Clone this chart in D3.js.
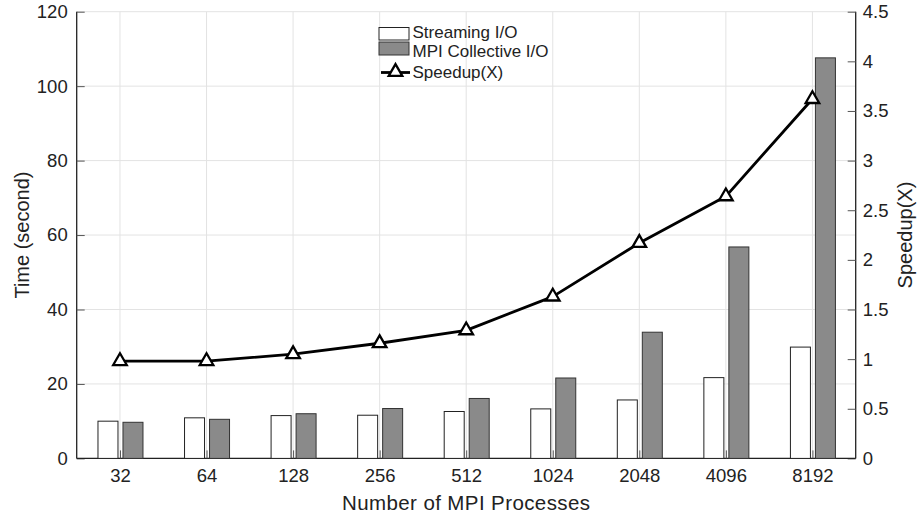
<!DOCTYPE html>
<html><head><meta charset="utf-8">
<script src="https://cdn.jsdelivr.net/npm/d3@7"></script>
<style>body{margin:0;background:#fff}svg{display:block}text{font-family:"Liberation Sans",Arial,Helvetica,sans-serif;fill:#222}</style>
</head><body><svg id="c" width="917" height="519"></svg>
<script>
const categories = ["32","64","128","256","512","1024","2048","4096","8192"];
const streamingIO = [10.0, 10.9, 11.5, 11.6, 12.6, 13.3, 15.7, 21.7, 29.9];
const mpiCollectiveIO = [9.7, 10.5, 12.0, 13.4, 16.1, 21.6, 33.9, 56.8, 107.6];
const speedup = [0.98, 0.98, 1.05, 1.16, 1.29, 1.63, 2.17, 2.64, 3.62];
const leftTicks = [0, 20, 40, 60, 80, 100, 120];
const rightTicks = [0, 0.5, 1, 1.5, 2, 2.5, 3, 3.5, 4, 4.5];
const legendLabels = ["Streaming I/O", "MPI Collective I/O", "Speedup(X)"];

const FONT = '"Liberation Sans",Arial,Helvetica,sans-serif';
const svg = d3.select("#c");
const L = 76.7, R = 855.7, T = 11.7, B = 458.4;
const x = d3.scalePoint().domain(categories).range([L, R]).padding(0.5);
const y = d3.scaleLinear().domain([0, 120]).range([B, T]);
const y2 = d3.scaleLinear().domain([0, 4.5]).range([B, T]);

// grid
const g = svg.append("g");
g.selectAll("line.hg").data(leftTicks).join("line")
  .attr("x1", L).attr("x2", R).attr("y1", d => y(d)).attr("y2", d => y(d))
  .attr("stroke", "#e3e3e3").attr("stroke-width", 1);
g.selectAll("line.vg").data(categories).join("line")
  .attr("x1", d => x(d)).attr("x2", d => x(d)).attr("y1", T).attr("y2", B)
  .attr("stroke", "#e3e3e3").attr("stroke-width", 1);

// axes
const axL = svg.append("g").attr("transform", `translate(${L},0)`)
  .call(d3.axisLeft(y).tickValues(leftTicks).tickSize(-8).tickPadding(9).tickFormat(d3.format("d")));
const axR = svg.append("g").attr("transform", `translate(${R},0)`)
  .call(d3.axisRight(y2).tickValues(rightTicks).tickSize(-8).tickPadding(7).tickFormat(d => d3.format("")(d)));
const axB = svg.append("g").attr("transform", `translate(0,${B})`)
  .call(d3.axisBottom(x).tickSize(-8).tickPadding(10));
[axL, axR, axB].forEach(a => {
  a.select(".domain").attr("stroke", "#222").attr("stroke-width", 1.3);
  a.selectAll(".tick line").attr("stroke", "#555");
  a.selectAll("text").attr("font-size", 18.5).attr("fill", "#222").attr("font-family", FONT);
});
axL.select(".domain").attr("d", `M0,${B}V${T}`);
axR.select(".domain").attr("d", `M0,${B}V${T}`);
axB.select(".domain").attr("d", `M${L},0H${R}`);

// bars
const bars = svg.append("g");
bars.selectAll("rect.s").data(categories).join("rect")
  .attr("x", d => x(d) - 22).attr("width", 20)
  .attr("y", (d, i) => y(streamingIO[i])).attr("height", (d, i) => B - y(streamingIO[i]))
  .attr("fill", "#fff").attr("stroke", "#222").attr("stroke-width", 1);
bars.selectAll("rect.m").data(categories).join("rect")
  .attr("x", d => x(d) + 3).attr("width", 20)
  .attr("y", (d, i) => y(mpiCollectiveIO[i])).attr("height", (d, i) => B - y(mpiCollectiveIO[i]))
  .attr("fill", "#8a8a8a").attr("stroke", "#333").attr("stroke-width", 1);

// speedup line
const line = d3.line().x((d, i) => x(categories[i])).y(d => y2(d));
svg.append("path").datum(speedup).attr("d", line)
  .attr("fill", "none").attr("stroke", "#000").attr("stroke-width", 2.8).attr("stroke-linejoin", "round");
const tri = d3.symbol().type(d3.symbolTriangle).size(80);
svg.selectAll("path.tri").data(speedup).join("path")
  .attr("transform", (d, i) => `translate(${x(categories[i])},${y2(d)})`)
  .attr("d", tri).attr("fill", "#fff").attr("stroke", "#000").attr("stroke-width", 2.3);

// axis labels
svg.append("text").attr("x", (L + R) / 2).attr("y", 510).attr("text-anchor", "middle")
  .attr("font-size", 20.5).attr("letter-spacing", 0.4).text("Number of MPI Processes");
svg.append("text").attr("transform", `translate(29,${(T + B) / 2}) rotate(-90)`).attr("text-anchor", "middle")
  .attr("font-size", 20).text("Time (second)");
svg.append("text").attr("transform", `translate(912,${(T + B) / 2}) rotate(-90)`).attr("text-anchor", "middle")
  .attr("font-size", 20).text("Speedup(X)");

// legend
const lg = svg.append("g");
lg.append("rect").attr("x", 379).attr("y", 27.5).attr("width", 30).attr("height", 12.5)
  .attr("fill", "#fff").attr("stroke", "#222");
lg.append("rect").attr("x", 379).attr("y", 42).attr("width", 30).attr("height", 13)
  .attr("fill", "#8a8a8a").attr("stroke", "#333");
lg.append("line").attr("x1", 381).attr("x2", 410).attr("y1", 72.5).attr("y2", 72.5)
  .attr("stroke", "#000").attr("stroke-width", 2.8);
lg.append("path").attr("transform", "translate(395.5,72)").attr("d", tri)
  .attr("fill", "#fff").attr("stroke", "#000").attr("stroke-width", 2.3);
const legendY = [37.7, 56.5, 78.3];
lg.selectAll("text").data(legendLabels).join("text")
  .attr("x", 412.5).attr("y", (d, i) => legendY[i]).attr("font-size", 17).text(d => d);
</script></body></html>
